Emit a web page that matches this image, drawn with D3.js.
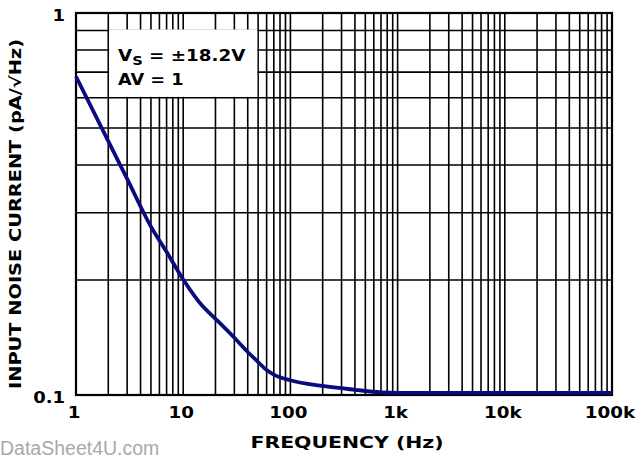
<!DOCTYPE html>
<html>
<head>
<meta charset="utf-8">
<script src="https://cdn.jsdelivr.net/npm/d3@7"></script>
<style>
  html, body { margin: 0; padding: 0; background: #fff; }
  svg { display: block; }
  text { font-family: "DejaVu Sans", Verdana, sans-serif; font-weight: bold; fill: #000; }
  text.mark { font-family: "Liberation Sans", Arial, sans-serif; font-weight: normal; fill: #a8a8a8; }
</style>
</head>
<body>
<svg id="chart" width="639" height="458"></svg>
<script>
// Input noise current spectral density vs frequency
const freqHz  = [1, 2, 3, 5, 7, 10, 15, 20, 30, 40, 50, 60, 70, 100, 200, 400, 700, 1000, 100000];
const noisePA = [0.682, 0.462, 0.368, 0.276, 0.237, 0.2006, 0.1714, 0.1583, 0.1412, 0.1296, 0.122, 0.1162, 0.1131, 0.1093, 0.1056, 0.1032, 0.1016, 0.1013, 0.1013];

const xTickValues = [1, 10, 100, 1000, 10000, 100000];
const xTickLabels = ["1", "10", "100", "1k", "10k", "100k"];
const yTickValues = [0.1, 1];
const yTickLabels = ["0.1", "1"];

const conditionLines = ["V", "AV = 1"];

const svg = d3.select("#chart");
const plotL = 76, plotR = 612, plotT = 13, plotB = 395;

const x = d3.scaleLog().domain([1, 100000]).range([plotL, plotR]);
const y = d3.scaleLog().domain([0.1, 1]).range([plotB, plotT]);

// minor + major grid values
const xGrid = [];
for (let d = 1; d < 100000; d *= 10) for (let m = 1; m <= 9; m++) xGrid.push(d * m);
xGrid.push(100000);
const yGrid = [];
for (let m = 1; m <= 10; m++) yGrid.push(m / 10);

const grid = svg.append("g").attr("stroke", "#000").attr("stroke-width", 1.6);
grid.selectAll("line.v").data(xGrid).join("line")
  .attr("class", "v")
  .attr("x1", d => x(d)).attr("x2", d => x(d))
  .attr("y1", plotT).attr("y2", plotB);
grid.selectAll("line.h").data(yGrid).join("line")
  .attr("class", "h")
  .attr("x1", plotL).attr("x2", plotR)
  .attr("y1", d => y(d)).attr("y2", d => y(d));

// frame
svg.append("rect")
  .attr("x", plotL).attr("y", plotT)
  .attr("width", plotR - plotL).attr("height", plotB - plotT)
  .attr("fill", "none").attr("stroke", "#000").attr("stroke-width", 2.2);

// white panel behind the test-condition note
svg.append("rect")
  .attr("x", x(2) + 0.9).attr("y", y(0.9) - 1)
  .attr("width", x(50) - x(2) - 1.8)
  .attr("height", y(0.6) - y(0.9) + 1 - 0.9)
  .attr("fill", "#fff");

// noise curve
const line = d3.line()
  .x((d, i) => x(freqHz[i]))
  .y(d => y(d))
  .curve(d3.curveMonotoneX);
svg.append("path")
  .datum(noisePA)
  .attr("d", line)
  .attr("fill", "none")
  .attr("stroke", "#0b0b80")
  .attr("stroke-width", 3.8)
  .attr("stroke-linejoin", "round");

// helper: horizontally widened text
function wideText(px, py, anchor, size, sx) {
  return svg.append("g")
    .attr("transform", `translate(${px},${py}) scale(${sx},1)`)
    .append("text")
    .attr("text-anchor", anchor)
    .attr("font-size", size);
}

// x tick labels
xTickValues.forEach((v, i) => {
  wideText(x(v) - 2, 418, "middle", 15.5, 1.18).text(xTickLabels[i]);
});
// y tick labels
yTickValues.forEach((v, i) => {
  wideText(65, y(v) + 8, "end", 15.5, 1.16).text(yTickLabels[i]);
});

// condition note
const n1 = wideText(118, 61, "start", 15, 1.22);
n1.append("tspan").text(conditionLines[0]);
n1.append("tspan").attr("font-size", 12).attr("dy", 4).text("S");
n1.append("tspan").attr("dy", -4).text(" = ±18.2V");
wideText(118, 85, "start", 15, 1.18).text(conditionLines[1]);

// axis titles
svg.append("text")
  .attr("x", 347).attr("y", 448)
  .attr("text-anchor", "middle")
  .attr("font-size", 15)
  .attr("textLength", 193)
  .attr("lengthAdjust", "spacingAndGlyphs")
  .text("FREQUENCY (Hz)");

svg.append("text")
  .attr("transform", "translate(21,214) rotate(-90)")
  .attr("text-anchor", "middle")
  .attr("font-size", 15)
  .attr("textLength", 350)
  .attr("lengthAdjust", "spacingAndGlyphs")
  .text("INPUT NOISE CURRENT (pA/√Hz)");

// site mark
svg.append("text")
  .attr("class", "mark")
  .attr("x", 0).attr("y", 455)
  .attr("font-size", 19.5)
  .text("DataSheet4U.com");
</script>
</body>
</html>
